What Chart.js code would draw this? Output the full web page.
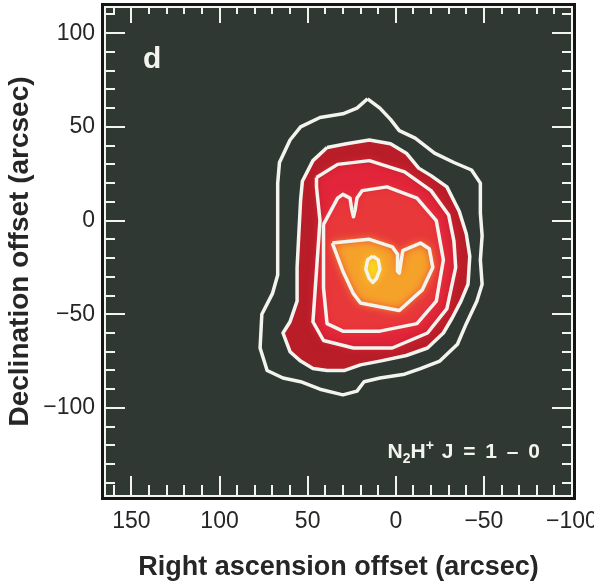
<!DOCTYPE html>
<html>
<head>
<meta charset="utf-8">
<title>N2H+ J = 1-0 integrated intensity</title>
<script src="https://cdn.jsdelivr.net/npm/chart.js@4"></script>
<style>
  html, body { margin: 0; padding: 0; background: #fff; }
  canvas { display: block; }
</style>
</head>
<body>
<canvas id="mapChart" width="594" height="584"></canvas>
<script>
// Axis extents in arcsec (RA runs right to left)
const raRange = [-100, 165];
const decRange = [-147, 114];
const raLabels = [150, 100, 50, 0, -50, -100];
const decLabels = [100, 50, 0, -50, -100];
const minorStep = 10;

// Contours, outermost first, as [RA offset, Dec offset]
const level1 = [[16,65],[9,60],[3,54],[-2,48],[-11,44],[-22,36],[-33,31],[-43,27],[-48,20],[-48,4],[-49,-8],[-48,-21],[-49,-34],[-46,-43],[-40,-55],[-35,-66],[-25,-75],[-14,-79],[-5,-82],[9,-84],[18,-86],[22,-91],[30,-93],[43,-90],[54,-86],[64,-84],[73,-80],[77,-68],[76,-50],[70,-39],[67,-29],[67,-12],[67,4],[67,20],[66,31],[60,43],[54,50],[43,55],[30,57],[22,60]];
const level2 = [[39,39],[47,32],[53,21],[54,11],[55,-7],[56,-25],[56,-43],[60,-54],[64,-60],[60,-70],[54,-75],[47,-79],[39,-80],[29,-80],[20,-77],[9,-75],[-6,-72],[-18,-68],[-27,-60],[-32,-52],[-37,-43],[-41,-34],[-42,-19],[-40,-7],[-36,5],[-29,18],[-20,24],[-13,28],[-6,36],[3,41],[15,43],[28,41]];
const level3 = [[45,23],[33,30],[15,32],[-5,26],[-20,16],[-30,3],[-33,-11],[-34,-25],[-29,-47],[-18,-60],[2,-68],[24,-68],[41,-64],[47,-54],[45,-27],[43,0],[45,18]];
const level4 = [[41,-2],[33,12],[30,14],[26,12],[25,6],[24,2],[23,6],[22,12],[19,16],[5,18],[-12,12],[-23,0],[-27,-21],[-23,-43],[-12,-55],[9,-59],[30,-59],[39,-55],[41,-36],[41,-14]];
const level5 = [[36,-12],[15,-10],[2,-14],[-1,-18],[-1,-27],[-2,-28],[-4,-16],[-14,-12],[-19,-15],[-21,-25],[-15,-37],[-2,-48],[20,-44],[24,-39],[30,-27]];
const level6 = [[13,-19],[10,-21],[9,-26],[11,-31],[13,-33],[15,-31],[17,-26],[16,-21]];

const contours = [level1, level2, level3, level4, level5, level6];

// colour ramp for the emission, from the second contour inwards
const rampColors = ['#b81d28', '#e2253a', '#e8383a', '#f5a22a', '#fbe21e'];

const plotBg = '#2f3833';
const lineWhite = '#f4f4ef';
const textDark = '#262626';

function toPoints(level) {
    const pts = level.map(p => ({x: p[0], y: p[1]}));
    pts.push({x: level[0][0], y: level[0][1]}); // close the ring
    return pts;
}

const datasets = [];

// filled bands (drawn first, outermost at the bottom)
contours.slice(1).forEach((level, i) => {
    datasets.push({
        data: toPoints(level),
        showLine: true,
        pointRadius: 0,
        borderWidth: 0,
        borderColor: 'rgba(0,0,0,0)',
        backgroundColor: rampColors[i],
        fill: 'shape',
        order: 30 - i,
        soft: i > 0
    });
});

// white contour lines on top
contours.forEach((level, i) => {
    datasets.push({
        data: toPoints(level),
        showLine: true,
        pointRadius: 0,
        borderWidth: 3.5,
        borderColor: lineWhite,
        borderJoinStyle: 'round',
        fill: false,
        order: i
    });
});

// blur the inner fills so the bands blend into each other
const softFill = {
    id: 'softFill',
    setFor(chart, meta) {
        chart.ctx.filter = meta && meta._dataset.soft ? 'blur(5px)' : 'none';
    },
    beforeDatasetsDraw(chart) {
        const metas = chart.getSortedVisibleDatasetMetas();
        this.setFor(chart, metas[metas.length - 1]);
    },
    beforeDatasetDraw(chart) {
        chart.ctx.filter = 'none';
    },
    afterDatasetDraw(chart, args) {
        const metas = chart.getSortedVisibleDatasetMetas();
        const pos = metas.indexOf(args.meta);
        this.setFor(chart, metas[pos - 1]);
    },
    afterDatasetsDraw(chart) {
        chart.ctx.filter = 'none';
    }
};

// dark plot panel behind everything
const panel = {
    id: 'panel',
    beforeDraw(chart) {
        const {ctx, chartArea: a} = chart;
        ctx.save();
        ctx.fillStyle = plotBg;
        ctx.fillRect(a.left - 3, a.top - 3, a.right - a.left + 6, a.bottom - a.top + 6);
        ctx.restore();
    }
};

// axis box with inward ticks on all four sides
const frame = {
    id: 'frame',
    afterDatasetsDraw(chart) {
        const {ctx, chartArea: a, scales: {x, y}} = chart;
        ctx.save();
        ctx.filter = 'none';
        ctx.strokeStyle = lineWhite;
        ctx.lineWidth = 2;
        ctx.beginPath();
        x.ticks.forEach(t => {
            const px = Math.round(x.getPixelForValue(t.value));
            const len = raLabels.includes(t.value) ? 20 : 11;
            ctx.moveTo(px, a.bottom); ctx.lineTo(px, a.bottom - len);
            ctx.moveTo(px, a.top); ctx.lineTo(px, a.top + len - 4);
        });
        y.ticks.forEach(t => {
            const py = Math.round(y.getPixelForValue(t.value));
            const len = decLabels.includes(t.value) ? 20 : 10;
            ctx.moveTo(a.left, py); ctx.lineTo(a.left + len, py);
            ctx.moveTo(a.right, py); ctx.lineTo(a.right - len, py);
        });
        ctx.stroke();
        ctx.strokeRect(a.left, a.top, a.right - a.left, a.bottom - a.top);
        ctx.strokeStyle = '#151515';
        ctx.lineWidth = 3;
        ctx.strokeRect(a.left - 2.5, a.top - 2.5, a.right - a.left + 5, a.bottom - a.top + 5);
        ctx.restore();
    }
};

// panel letter and line name
const annotations = {
    id: 'annotations',
    afterDatasetsDraw(chart) {
        const {ctx, chartArea: a} = chart;
        ctx.save();
        ctx.filter = 'none';
        ctx.fillStyle = lineWhite;
        ctx.textBaseline = 'alphabetic';
        ctx.textAlign = 'left';
        ctx.font = 'bold 30px "Liberation Sans", Arial, sans-serif';
        ctx.fillText('d', a.left + 38, a.top + 61);

        const big = 'bold 21px "Liberation Sans", Arial, sans-serif';
        const small = 'bold 14px "Liberation Sans", Arial, sans-serif';
        const parts = [
            {t: 'N', f: big, dy: 0, sp: 0},
            {t: '2', f: small, dy: 5, sp: 0},
            {t: 'H', f: big, dy: 0, sp: 0},
            {t: '+', f: small, dy: -8, sp: 0},
            {t: ' J = 1 \u2013 0', f: big, dy: 0, sp: 2}
        ];
        let w = 0;
        parts.forEach(p => {
            ctx.font = p.f;
            ctx.letterSpacing = p.sp + 'px';
            w += ctx.measureText(p.t).width;
        });
        let px = a.right - 30 - w;
        const base = a.bottom - 38;
        parts.forEach(p => {
            ctx.font = p.f;
            ctx.letterSpacing = p.sp + 'px';
            ctx.fillText(p.t, px, base + p.dy);
            px += ctx.measureText(p.t).width;
        });
        ctx.restore();
    }
};

function allTicks(range) {
    const out = [];
    for (let v = Math.ceil(range[0] / minorStep) * minorStep; v <= range[1]; v += minorStep) {
        out.push({value: v});
    }
    return out;
}

function noPad(s) {
    s.paddingTop = 0;
    s.paddingBottom = 0;
    s.paddingLeft = 0;
    s.paddingRight = 0;
}

const tickFont = {family: '"Liberation Sans", Arial, sans-serif', size: 23};

new Chart(document.getElementById('mapChart'), {
    type: 'scatter',
    data: {datasets},
    options: {
        responsive: false,
        animation: false,
        events: [],
        devicePixelRatio: 1,
        layout: {padding: {top: 7, right: 22, left: 0, bottom: 0}},
        plugins: {
            legend: {display: false},
            tooltip: {enabled: false},
            filler: {propagate: false}
        },
        scales: {
            x: {
                type: 'linear',
                min: raRange[0],
                max: raRange[1],
                reverse: true,
                grid: {display: false, drawTicks: false},
                border: {display: false},
                afterBuildTicks: s => { s.ticks = allTicks(raRange); },
                afterFit: s => { s.height = 88; noPad(s); },
                ticks: {
                    autoSkip: false,
                    maxRotation: 0,
                    padding: 12,
                    color: textDark,
                    font: tickFont,
                    callback: v => raLabels.includes(v) ? String(v).replace('-', '\u2212') : ''
                },
                title: {
                    display: true,
                    text: 'Right ascension offset (arcsec)',
                    color: textDark,
                    font: {family: '"Liberation Sans", Arial, sans-serif', size: 27, weight: 'bold'},
                    padding: {top: 0, bottom: 0}
                }
            },
            y: {
                type: 'linear',
                min: decRange[0],
                max: decRange[1],
                grid: {display: false, drawTicks: false},
                border: {display: false},
                afterBuildTicks: s => { s.ticks = allTicks(decRange); },
                afterFit: s => { s.width = 105; noPad(s); },
                ticks: {
                    autoSkip: false,
                    padding: 10,
                    color: textDark,
                    font: tickFont,
                    callback: v => decLabels.includes(v) ? String(v).replace('-', '\u2212') : ''
                },
                title: {
                    display: true,
                    text: 'Declination offset (arcsec)',
                    color: textDark,
                    font: {family: '"Liberation Sans", Arial, sans-serif', size: 28, weight: 'bold'},
                    padding: {top: 3, bottom: 0}
                }
            }
        }
    },
    plugins: [panel, softFill, frame, annotations]
});
</script>
</body>
</html>
